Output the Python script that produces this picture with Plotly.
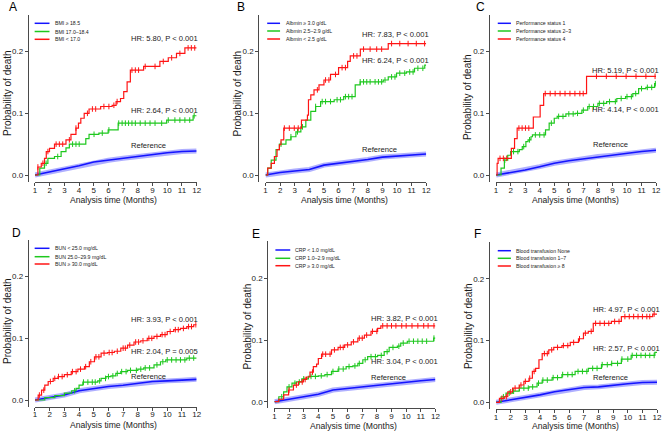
import plotly.graph_objects as go

W, H = 669, 431

# ---------------- data ----------------
months = [1, 2, 3, 4, 5, 6, 7, 8, 9, 10, 11, 12]
y_ticks = [0.0, 0.1, 0.2]

# Panel A  (BMI)
a_blue_t = months
a_blue_v = [0, 0.005, 0.009, 0.015, 0.021, 0.024, 0.027, 0.030, 0.034, 0.036, 0.038, 0.039]
a_green_t = [1.0, 1.33, 1.65, 1.88, 2.33, 2.78, 3.11, 3.34, 4.46, 4.68, 5.35, 5.98, 6.66, 9.96, 11.76, 12.0]
a_green_v = [0, 0.011, 0.019, 0.027, 0.030, 0.038, 0.044, 0.050, 0.059, 0.066, 0.068, 0.073, 0.084, 0.089, 0.096, 0.096]
a_green_cens = [1.76, 2.55, 3.56, 3.79, 4.01, 5.02, 5.58, 6.03, 6.7, 6.93, 7.15, 7.37, 7.6, 7.83, 8.16, 8.5,
                8.83, 9.17, 9.62, 10.07, 10.52, 10.86, 11.2, 11.53, 11.83]
a_red_t = [1.0, 1.2, 1.43, 1.65, 1.77, 1.99, 2.33, 3.11, 3.45, 3.79, 3.96, 4.12, 4.35, 4.68, 5.47, 6.25, 6.52,
           6.82, 7.04, 7.27, 7.49, 8.39, 9.5, 10.07, 10.63, 11.2, 12.0]
a_red_v = [0, 0.013, 0.019, 0.027, 0.038, 0.043, 0.050, 0.057, 0.066, 0.076, 0.084, 0.092, 0.100, 0.107, 0.111,
           0.113, 0.119, 0.124, 0.135, 0.151, 0.170, 0.176, 0.184, 0.190, 0.197, 0.206, 0.206]
a_red_cens = [1.2, 1.54, 1.88, 2.44, 2.66, 2.89, 3.34, 3.79, 4.57, 4.91, 5.13, 5.69, 6.03, 6.37, 6.59, 7.6, 7.83,
              8.05, 8.5, 9.17, 9.73, 10.3, 10.86, 11.42, 11.64, 11.87]

# Panel B  (Albumin)
b_blue_t = months
b_blue_v = [0, 0.004, 0.0065, 0.009, 0.016, 0.019, 0.0216, 0.025, 0.029, 0.031, 0.032, 0.034]
b_green_t = [1.0, 1.15, 1.39, 1.72, 1.95, 2.4, 2.74, 3.08, 3.42, 3.76, 4.1, 4.43, 4.77, 5.7, 6.35, 7.14, 7.48,
             9.06, 9.4, 9.97, 10.65, 11.2, 11.9, 12.0]
b_green_v = [0, 0.011, 0.024, 0.041, 0.050, 0.057, 0.062, 0.070, 0.078, 0.089, 0.103, 0.111, 0.119, 0.122, 0.127,
             0.146, 0.151, 0.154, 0.159, 0.165, 0.167, 0.173, 0.178, 0.178]
b_green_cens = [2.06, 2.74, 3.19, 3.53, 4.43, 4.88, 5.11, 5.45, 5.9, 6.13, 6.47, 6.69, 6.92, 7.48, 7.71, 7.93,
                8.16, 8.5, 8.73, 8.95, 9.18, 9.63, 9.86, 10.19, 10.53, 10.87, 11.1, 11.43, 11.77]
b_red_t = [1.0, 1.15, 1.39, 1.61, 1.79, 1.95, 2.06, 2.25, 3.46, 3.87, 3.94, 4.1, 4.32, 4.66, 5.0, 5.45, 6.0,
           6.62, 6.8, 7.49, 9.4, 12.0]
b_red_v = [0, 0.011, 0.019, 0.030, 0.041, 0.049, 0.057, 0.076, 0.089, 0.097, 0.122, 0.130, 0.138, 0.146, 0.154,
           0.163, 0.174, 0.184, 0.193, 0.204, 0.213, 0.213]
b_red_cens = [2.29, 2.63, 2.97, 3.24, 4.55, 5.11, 5.34, 5.79, 6.24, 6.47, 7.03, 7.26, 7.71, 8.16, 8.61, 8.95,
              9.63, 10.19, 10.76, 11.32, 11.89]

# Panel C  (Performance status)
c_blue_t = months
c_blue_v = [0, 0.004, 0.008, 0.0135, 0.019, 0.023, 0.026, 0.030, 0.032, 0.035, 0.038, 0.040]
c_green_t = [1.0, 1.34, 1.57, 1.8, 2.0, 2.6, 2.8, 3.05, 3.2, 3.4, 3.5, 4.4, 4.65, 5.0, 5.2, 5.8, 6.45, 6.9, 7.3,
             8.0, 8.6, 9.3, 9.9, 10.4, 10.8, 11.3, 11.9, 12.0]
c_green_v = [0, 0.011, 0.024, 0.032, 0.038, 0.041, 0.046, 0.054, 0.057, 0.062, 0.065, 0.073, 0.084, 0.092, 0.095,
             0.099, 0.100, 0.105, 0.111, 0.116, 0.119, 0.124, 0.127, 0.132, 0.140, 0.142, 0.148, 0.148]
c_green_cens = [1.6, 2.2, 2.5, 2.9, 3.3, 3.7, 4.0, 4.3, 4.8, 5.3, 5.6, 6.0, 6.3, 6.6, 7.0, 7.4, 7.7, 8.1, 8.4,
                8.8, 9.2, 9.6, 10.0, 10.3, 10.6, 11.0, 11.4, 11.7, 11.95]
c_red_t = [1.0, 1.07, 1.14, 2.05, 2.27, 2.45, 3.56, 4.03, 4.27, 7.22, 12.0]
c_red_v = [0, 0.019, 0.027, 0.043, 0.059, 0.076, 0.094, 0.113, 0.132, 0.160, 0.160]
c_red_cens = [1.27, 1.5, 1.73, 2.57, 2.79, 3.02, 3.25, 4.38, 4.72, 5.06, 5.4, 5.74, 6.08, 6.42, 6.76, 6.99,
              7.9, 8.58, 9.26, 9.94, 10.62, 11.3, 11.93]

# Panel D  (BUN)
d_blue_t = months
d_blue_v = [0, 0.004, 0.008, 0.015, 0.019, 0.022, 0.024, 0.027, 0.030, 0.031, 0.032, 0.0335]
d_green_t = [1.0, 1.67, 2.35, 3.0, 3.5, 3.8, 4.0, 4.26, 5.27, 5.5, 5.83, 6.17, 6.5, 6.84, 7.3, 8.0, 8.4, 9.1,
             9.54, 9.9, 11.33, 12.0]
d_green_v = [0, 0.004, 0.007, 0.011, 0.015, 0.019, 0.024, 0.029, 0.031, 0.035, 0.038, 0.039, 0.043, 0.046, 0.048,
             0.050, 0.052, 0.057, 0.062, 0.065, 0.068, 0.068]
d_green_cens = [3.7, 4.3, 4.6, 4.9, 5.1, 5.4, 5.8, 6.0, 6.3, 6.6, 6.9, 7.2, 7.5, 7.9, 8.2, 8.5, 8.8, 9.3, 9.7,
                10.0, 10.3, 10.6, 10.9, 11.2, 11.5, 11.8]
d_red_t = [1.0, 1.22, 1.45, 1.67, 1.9, 2.24, 2.57, 3.0, 3.47, 3.92, 4.37, 4.7, 5.05, 5.5, 5.94, 6.4, 6.84, 7.3,
           7.74, 8.2, 8.64, 9.1, 9.54, 10.0, 10.44, 10.9, 11.33, 11.8, 12.0]
d_red_v = [0, 0.008, 0.016, 0.024, 0.030, 0.035, 0.038, 0.041, 0.046, 0.050, 0.054, 0.062, 0.070, 0.076, 0.077,
           0.079, 0.084, 0.089, 0.094, 0.096, 0.100, 0.103, 0.106, 0.111, 0.114, 0.116, 0.119, 0.122, 0.122]
d_red_cens = [1.3, 1.6, 2.05, 2.35, 2.6, 2.85, 3.2, 3.55, 3.8, 4.1, 4.45, 4.8, 5.15, 5.35, 5.7, 6.05, 6.25, 6.6,
              7.0, 7.15, 7.45, 7.85, 8.05, 8.35, 8.75, 8.95, 9.3, 9.65, 9.85, 10.2, 10.55, 10.75, 11.1, 11.45,
              11.65, 11.95]

# Panel E  (CRP)
e_blue_t = months
e_blue_v = [0, 0.004, 0.008, 0.012, 0.019, 0.0216, 0.024, 0.027, 0.030, 0.032, 0.034, 0.036]
e_green_t = [1.0, 1.3, 1.63, 1.86, 2.2, 2.5, 2.87, 3.32, 4.0, 4.45, 4.9, 5.35, 5.9, 6.36, 6.7, 7.04, 7.37, 8.05,
             8.5, 8.84, 9.4, 9.63, 10.08, 11.88, 12.0]
e_green_v = [0, 0.008, 0.016, 0.024, 0.030, 0.032, 0.037, 0.041, 0.042, 0.044, 0.049, 0.053, 0.057, 0.058, 0.062,
             0.068, 0.073, 0.075, 0.081, 0.088, 0.090, 0.095, 0.098, 0.103, 0.103]
e_green_cens = [1.5, 2.0, 2.4, 2.7, 3.0, 3.5, 3.8, 4.2, 4.6, 5.0, 5.4, 5.7, 6.1, 6.5, 6.8, 7.2, 7.6, 7.9, 8.3,
                8.7, 9.1, 9.5, 9.8, 10.2, 10.5, 10.8, 11.1, 11.4, 11.9]
e_red_t = [1.0, 1.3, 1.63, 1.97, 2.3, 2.64, 2.98, 3.2, 3.43, 3.66, 3.88, 4.0, 4.22, 4.9, 5.35, 5.8, 6.25, 6.7,
           7.15, 7.6, 8.05, 8.27, 12.0]
e_red_v = [0, 0.004, 0.011, 0.019, 0.027, 0.032, 0.036, 0.040, 0.048, 0.057, 0.061, 0.070, 0.077, 0.084, 0.088,
           0.092, 0.097, 0.103, 0.108, 0.114, 0.119, 0.123, 0.123]
e_red_cens = [2.0, 2.5, 2.9, 3.1, 3.6, 4.3, 4.5, 4.8, 5.1, 5.5, 5.7, 6.0, 6.4, 6.8, 7.0, 7.3, 7.7, 8.0, 8.4, 8.7,
              9.0, 9.3, 9.7, 10.0, 10.4, 10.8, 11.2, 11.5, 11.9]

# Panel F  (Blood transfusion)
f_blue_t = months
f_blue_v = [0, 0.004, 0.0076, 0.012, 0.017, 0.020, 0.024, 0.025, 0.028, 0.030, 0.032, 0.0325]
f_green_t = [1.0, 1.34, 1.68, 2.13, 2.58, 3.25, 3.8, 4.15, 4.83, 5.5, 6.4, 7.3, 8.2, 8.88, 9.56, 10.23, 11.85, 12.0]
f_green_v = [0, 0.009, 0.015, 0.018, 0.023, 0.025, 0.031, 0.036, 0.040, 0.045, 0.050, 0.055, 0.061, 0.063, 0.070,
             0.076, 0.081, 0.081]
f_green_cens = [1.5, 1.9, 2.2, 2.6, 2.9, 3.2, 3.5, 3.9, 4.2, 4.5, 4.9, 5.2, 5.55, 5.9, 6.2, 6.6, 6.9, 7.2, 7.6,
                7.9, 8.25, 8.6, 8.9, 9.3, 9.6, 10.0, 10.3, 10.6, 10.9, 11.2, 11.5, 11.8]
f_red_t = [1.0, 1.23, 1.56, 1.8, 2.13, 2.58, 2.9, 3.25, 3.48, 3.7, 3.93, 4.15, 4.6, 4.94, 5.5, 6.07, 6.63, 6.97,
           7.3, 7.64, 8.88, 9.56, 11.7, 12.0]
f_red_v = [0, 0.0065, 0.009, 0.017, 0.023, 0.028, 0.034, 0.039, 0.050, 0.055, 0.069, 0.079, 0.085, 0.089, 0.092,
           0.097, 0.103, 0.112, 0.115, 0.128, 0.131, 0.139, 0.143, 0.143]
f_red_cens = [1.4, 1.7, 2.0, 2.3, 2.7, 3.0, 3.3, 3.6, 4.3, 4.5, 4.8, 5.2, 5.6, 5.9, 6.3, 6.7, 7.1, 7.5, 7.8,
              8.1, 8.4, 8.7, 9.1, 9.4, 9.8, 10.1, 10.4, 10.7, 11.0, 11.3, 11.5, 11.8]

legend_labels = {
    "A": ["BMI ≥ 18.5", "BMI 17.0–18.4", "BMI < 17.0"],
    "B": ["Albmin ≥ 3.0 g/dL", "Albmin 2.5–2.9 g/dL", "Albmin < 2.5 g/dL"],
    "C": ["Performance status 1", "Performance status 2–3", "Performance status 4"],
    "D": ["BUN < 25.0 mg/dL", "BUN 25.0–29.9 mg/dL", "BUN ≥ 30.0 mg/dL"],
    "E": ["CRP < 1.0 mg/dL", "CRP 1.0–2.9 mg/dL", "CRP ≥ 3.0 mg/dL"],
    "F": ["Blood transfusion None", "Blood transfusion 1–7", "Blood transfusion ≥ 8"],
}
hr_labels = {
    "A": ["HR: 5.80, P < 0.001", "HR: 2.64, P < 0.001"],
    "B": ["HR: 7.83, P < 0.001", "HR: 6.24, P < 0.001"],
    "C": ["HR: 5.19, P < 0.001", "HR: 4.14, P < 0.001"],
    "D": ["HR: 3.93, P < 0.001", "HR: 2.04, P = 0.005"],
    "E": ["HR: 3.82, P < 0.001", "HR: 3.04, P < 0.001"],
    "F": ["HR: 4.97, P < 0.001", "HR: 2.57, P < 0.001"],
}
ref_label = "Reference"
x_title = "Analysis time (Months)"
y_title = "Probability of death"

# ---------------- styling / layout geometry (pixels) ----------------
FONT = "Liberation Sans, Arial, sans-serif"
TXT = "#1a1a1a"
AX = "#4a4a4a"
RED = "#ff1414"
GREEN = "#1ec81e"
BLUE = "#1414ff"
BLUE_BAND = "rgba(110,110,255,0.55)"

Y_RANGE = [-0.011, 0.26]

geom = {
    "A": dict(x1=33.3, x12=196.7, yl=26.0, y0=175.0, letter=(11, 7), yt=(5, 93), xt=(112.5, 200.5), sd=-2,
              leg_y=[23.3, 31.5, 39.3], leg_x=(33, 48), leg_tx=52,
              hr=[(7.40, 0.2216), (7.40, 0.105)], ref=(7.40, 0.0486)),
    "B": dict(x1=266.3, x12=428.7, yl=259.0, y0=175.0, letter=(242, 7), yt=(238, 94), xt=(346, 200.5), sd=-2,
              leg_y=[23.3, 31.0, 39.0], leg_x=(268, 281), leg_tx=284.7,
              hr=[(7.44, 0.228), (7.44, 0.185)], ref=(7.44, 0.0417)),
    "C": dict(x1=499.3, x12=661.0, yl=492.0, y0=175.0, letter=(483.5, 7), yt=(471, 97), xt=(579.8, 199.5), sd=-2,
              leg_y=[23.3, 31.0, 39.0], leg_x=(501, 514.3), leg_tx=517.7,
              hr=[(7.46, 0.170), (7.46, 0.1065)], ref=(7.51, 0.0498)),
    "D": dict(x1=33.3, x12=196.7, yl=26.0, y0=400.0, letter=(15, 233), yt=(5, 321), xt=(112.5, 425.0), sd=-3,
              leg_y=[248.3, 256.7, 264.0], leg_x=(33, 48), leg_tx=51.7,
              hr=[(7.40, 0.131), (7.40, 0.0783)], ref=(7.40, 0.0378)),
    "E": dict(x1=275.3, x12=438.0, yl=268.0, y0=401.7, letter=(257, 234), yt=(248, 326), xt=(355.5, 425.8), sd=-3,
              leg_y=[250.0, 258.3, 265.7], leg_x=(276.3, 291.3), leg_tx=294,
              hr=[(7.49, 0.135), (7.49, 0.0648)], ref=(7.49, 0.0389)),
    "F": dict(x1=499.3, x12=662.0, yl=492.0, y0=402.3, letter=(481, 234), yt=(471, 326), xt=(579.8, 425.8), sd=-3,
              leg_y=[250.7, 258.3, 266.0], leg_x=(501, 514.3), leg_tx=517.7,
              hr=[(7.47, 0.151), (7.47, 0.0864)], ref=(7.47, 0.0399)),
}
PX_PER_UNIT = 617.0

series = {
    "A": (a_blue_t, a_blue_v, a_green_t, a_green_v, a_green_cens, a_red_t, a_red_v, a_red_cens),
    "B": (b_blue_t, b_blue_v, b_green_t, b_green_v, b_green_cens, b_red_t, b_red_v, b_red_cens),
    "C": (c_blue_t, c_blue_v, c_green_t, c_green_v, c_green_cens, c_red_t, c_red_v, c_red_cens),
    "D": (d_blue_t, d_blue_v, d_green_t, d_green_v, d_green_cens, d_red_t, d_red_v, d_red_cens),
    "E": (e_blue_t, e_blue_v, e_green_t, e_green_v, e_green_cens, e_red_t, e_red_v, e_red_cens),
    "F": (f_blue_t, f_blue_v, f_green_t, f_green_v, f_green_cens, f_red_t, f_red_v, f_red_cens),
}


def px(x):
    return x / W


def py(y):
    return 1 - y / H


def step_value(ts, vs, c):
    val = vs[0]
    for t, v in zip(ts, vs):
        if t <= c:
            val = v
    return val


fig = go.Figure()
layout_axes = {}
annotations = []
shapes = []

for i, key in enumerate(["A", "B", "C", "D", "E", "F"], start=1):
    g = geom[key]
    xa = "x" if i == 1 else f"x{i}"
    ya = "y" if i == 1 else f"y{i}"
    bt, bv, gt, gv, gc, rt, rv, rc = series[key]

    fig.add_trace(go.Scatter(x=bt, y=bv, mode="lines", line=dict(color=BLUE_BAND, width=5),
                             xaxis=xa, yaxis=ya, hoverinfo="skip"))
    fig.add_trace(go.Scatter(x=bt, y=bv, mode="lines", line=dict(color=BLUE, width=1.6),
                             xaxis=xa, yaxis=ya, name=legend_labels[key][0]))
    fig.add_trace(go.Scatter(x=gt, y=gv, mode="lines", line=dict(color=GREEN, width=1.2, shape="hv"),
                             xaxis=xa, yaxis=ya, name=legend_labels[key][1]))
    fig.add_trace(go.Scatter(x=gc, y=[step_value(gt, gv, c) for c in gc], mode="markers",
                             marker=dict(symbol="line-ns-open", size=4, color=GREEN,
                                         line=dict(color=GREEN, width=1)),
                             xaxis=xa, yaxis=ya, hoverinfo="skip"))
    fig.add_trace(go.Scatter(x=rt, y=rv, mode="lines", line=dict(color=RED, width=1.2, shape="hv"),
                             xaxis=xa, yaxis=ya, name=legend_labels[key][2]))
    fig.add_trace(go.Scatter(x=rc, y=[step_value(rt, rv, c) for c in rc], mode="markers",
                             marker=dict(symbol="line-ns-open", size=4, color=RED,
                                         line=dict(color=RED, width=1)),
                             xaxis=xa, yaxis=ya, hoverinfo="skip"))

    top_px = g["y0"] - Y_RANGE[1] * PX_PER_UNIT
    bot_px = g["y0"] - Y_RANGE[0] * PX_PER_UNIT
    xname = "xaxis" if i == 1 else f"xaxis{i}"
    yname = "yaxis" if i == 1 else f"yaxis{i}"
    layout_axes[xname] = dict(
        domain=[px(g["x1"]), px(g["x12"])], range=[1, 12], anchor=ya,
        showline=True, linecolor=AX, linewidth=1, ticks="outside", ticklen=3, tickwidth=1, tickcolor=AX,
        tickmode="array", tickvals=months, ticktext=[str(m) for m in months], ticklabelstandoff=g["sd"],
        tickfont=dict(family=FONT, size=8, color=TXT), showgrid=False, zeroline=False, fixedrange=True)
    layout_axes[yname] = dict(
        domain=[py(bot_px), py(top_px)], range=Y_RANGE, anchor="free", position=px(g["yl"]),
        showline=True, linecolor=AX, linewidth=1, ticks="outside", ticklen=3, tickwidth=1, tickcolor=AX,
        tickmode="array", tickvals=y_ticks, tickformat=".1f",
        tickfont=dict(family=FONT, size=8, color=TXT), showgrid=False, zeroline=False, fixedrange=True)

    annotations.append(dict(text=key, x=px(g["letter"][0]), y=py(g["letter"][1]), xref="paper", yref="paper",
                            showarrow=False, xanchor="center", yanchor="middle",
                            font=dict(family=FONT, size=12, color="#000")))
    annotations.append(dict(text=y_title, x=px(g["yt"][0]), y=py(g["yt"][1]), xref="paper", yref="paper",
                            showarrow=False, textangle=-90, xanchor="center", yanchor="middle",
                            font=dict(family=FONT, size=10, color=TXT)))
    annotations.append(dict(text=x_title, x=px(g["xt"][0]), y=py(g["xt"][1]), xref="paper", yref="paper",
                            showarrow=False, xanchor="center", yanchor="middle",
                            font=dict(family=FONT, size=8.6, color=TXT)))
    for (hx, hy), txt in zip(g["hr"], hr_labels[key]):
        annotations.append(dict(text=txt, x=hx, y=hy, xref=xa, yref=ya, showarrow=False,
                                xanchor="left", yanchor="middle",
                                font=dict(family=FONT, size=7.6, color=TXT)))
    annotations.append(dict(text=ref_label, x=g["ref"][0], y=g["ref"][1], xref=xa, yref=ya, showarrow=False,
                            xanchor="left", yanchor="middle", font=dict(family=FONT, size=7.6, color=TXT)))
    for ly, col, lab in zip(g["leg_y"], [BLUE, GREEN, RED], legend_labels[key]):
        shapes.append(dict(type="line", xref="paper", yref="paper", x0=px(g["leg_x"][0]), x1=px(g["leg_x"][1]),
                           y0=py(ly), y1=py(ly), line=dict(color=col, width=1.5)))
        annotations.append(dict(text=lab, x=px(g["leg_tx"]), y=py(ly), xref="paper", yref="paper",
                                showarrow=False, xanchor="left", yanchor="middle",
                                font=dict(family=FONT, size=5.2, color=TXT)))

fig.update_layout(
    width=W, height=H, autosize=False,
    margin=dict(l=0, r=0, t=0, b=0, pad=0),
    paper_bgcolor="white", plot_bgcolor="white",
    showlegend=False,
    annotations=annotations, shapes=shapes,
    **layout_axes,
)

fig.write_html("out.html",
               config={"displayModeBar": False, "staticPlot": True},
               post_script="document.body.style.margin='0px';"
                           "document.documentElement.style.overflow='hidden';")
